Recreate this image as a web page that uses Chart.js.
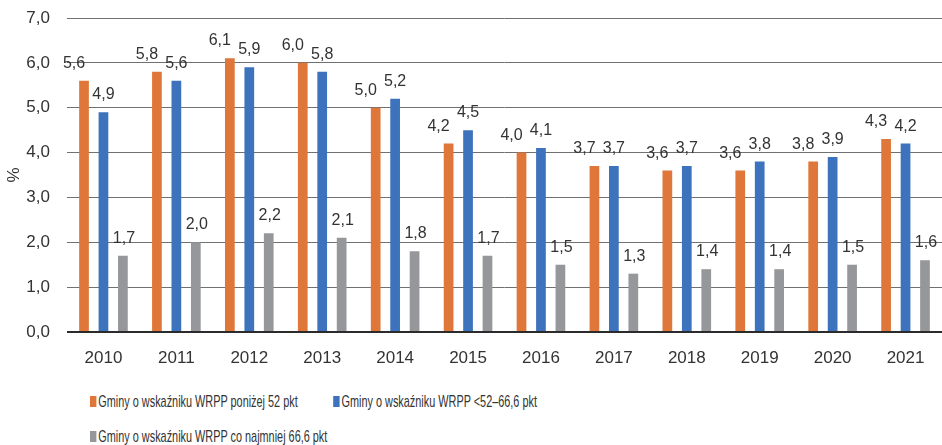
<!DOCTYPE html>
<html lang="pl">
<head>
  <meta charset="UTF-8" />
  <title>Gminy WRPP</title>
  <script src="https://cdn.jsdelivr.net/npm/chart.js"></script>
  <style>
    html, body { margin: 0; padding: 0; background: #fff; }
    #wrap { width: 942px; height: 445px; position: relative; }
    #chartBox { position: absolute; left: 0; top: 0; width: 942px; height: 368px; }
    #legend {
      position: absolute; left: 90px; top: 390px;
      display: grid; grid-template-columns: 380px 380px; row-gap: 12px;
      transform: scaleX(0.64); transform-origin: left top;
      font: 17px "Liberation Sans", Arial, sans-serif; color: #333;
    }
    #legend .item { display: flex; align-items: center; height: 23px; white-space: nowrap; }
    #legend .box { width: 10px; height: 11px; margin-right: 3px; }
  </style>
</head>
<body>
  <div id="wrap">
    <div id="chartBox"><canvas id="chart"></canvas></div>
    <div id="legend"></div>
  </div>

  <script>
    const years = ['2010','2011','2012','2013','2014','2015','2016','2017','2018','2019','2020','2021'];
    const below52 = [5.6, 5.8, 6.1, 6.0, 5.0, 4.2, 4.0, 3.7, 3.6, 3.6, 3.8, 4.3];
    const mid52to66 = [4.9, 5.6, 5.9, 5.8, 5.2, 4.5, 4.1, 3.7, 3.7, 3.8, 3.9, 4.2];
    const above66 = [1.7, 2.0, 2.2, 2.1, 1.8, 1.7, 1.5, 1.3, 1.4, 1.4, 1.5, 1.6];
    const seriesNames = [
      'Gminy o wskaźniku WRPP poniżej 52 pkt',
      'Gminy o wskaźniku WRPP <52–66,6 pkt',
      'Gminy o wskaźniku WRPP co najmniej 66,6 pkt'
    ];
    const colors = ['#E0773A', '#3D72BC', '#96979A'];
    const yTicks = [0, 1, 2, 3, 4, 5, 6, 7];

    const FONT = '"Liberation Sans", Arial, sans-serif';
    const fmt = v => v.toFixed(1).replace('.', ',');

    // value labels above bars (orange ones sit a bit to the left, like in the original)
    const labelShift = [-10, 0, 1];
    const barLabels = {
      id: 'barLabels',
      afterDatasetsDraw(chart) {
        const ctx = chart.ctx;
        ctx.save();
        ctx.font = '16px ' + FONT;
        ctx.fillStyle = '#333';
        ctx.textAlign = 'center';
        ctx.textBaseline = 'alphabetic';
        chart.data.datasets.forEach((ds, i) => {
          chart.getDatasetMeta(i).data.forEach((bar, j) => {
            ctx.fillText(fmt(ds.data[j]), bar.x + labelShift[i], bar.y - 13);
          });
        });
        ctx.restore();
      }
    };

    const datasets = [below52, mid52to66, above66].map((d, i) => ({
      label: seriesNames[i], data: d, backgroundColor: colors[i]
    }));

    new Chart(document.getElementById('chart'), {
      type: 'bar',
      data: { labels: years, datasets: datasets },
      options: {
        responsive: true,
        maintainAspectRatio: false,
        animation: false,
        layout: { padding: { top: 18, right: -1, left: 4, bottom: 0 } },
        datasets: { bar: { categoryPercentage: 0.8, barPercentage: 0.5 } },
        plugins: {
          tooltip: { enabled: false },
          legend: { display: false }
        },
        scales: {
          x: {
            grid: { display: false },
            border: { display: false },
            afterFit: axis => { axis.height = 36; },
            ticks: { font: { family: FONT, size: 17 }, color: '#333', padding: 8 }
          },
          y: {
            min: 0,
            max: 7,
            afterBuildTicks: axis => { axis.ticks = yTicks.map(v => ({ value: v })); },
            afterFit: axis => { axis.width = 63; },
            title: { display: true, text: '%', font: { family: FONT, size: 17 }, color: '#333', padding: 0 },
            border: { display: false },
            grid: {
              drawTicks: true,
              tickLength: 15,
              tickColor: 'rgba(0,0,0,0)',
              color: ctx => ctx.tick && ctx.tick.value === 0 ? '#2b2b2b' : '#707070',
              lineWidth: ctx => ctx.tick && ctx.tick.value === 0 ? 2 : 1
            },
            ticks: { font: { family: FONT, size: 17 }, color: '#333', padding: 2, callback: v => fmt(v) }
          }
        }
      },
      plugins: [barLabels]
    });

    // legend below the chart
    const legend = document.getElementById('legend');
    seriesNames.forEach((name, i) => {
      const item = document.createElement('div');
      item.className = 'item';
      const box = document.createElement('span');
      box.className = 'box';
      box.style.background = colors[i];
      const txt = document.createElement('span');
      txt.textContent = name;
      item.appendChild(box);
      item.appendChild(txt);
      legend.appendChild(item);
    });
  </script>
</body>
</html>
